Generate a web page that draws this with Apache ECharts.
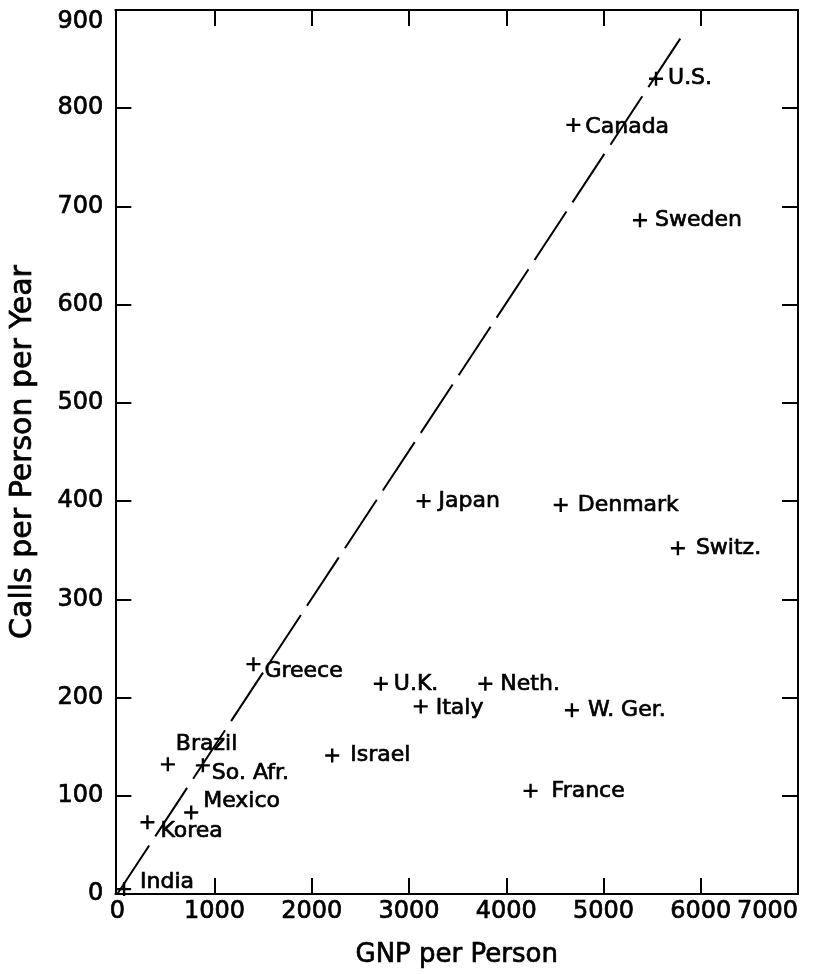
<!DOCTYPE html>
<html>
<head>
<meta charset="utf-8">
<title>Calls per Person vs GNP</title>
<script src="https://cdn.jsdelivr.net/npm/echarts@6/dist/echarts.min.js"></script>
<style>
  html, body { margin: 0; padding: 0; background: #fff; }
  #chart { width: 820px; height: 974px; }
</style>
</head>
<body>
<div id="chart"></div>
<script>
// countries and their values
const countries = ['U.S.', 'Canada', 'Sweden', 'Japan', 'Denmark', 'Switz.', 'Neth.', 'Italy', 'W. Ger.',
  'U.K.', 'Israel', 'France', 'Greece', 'Brazil', 'So. Afr.', 'Mexico', 'Korea', 'India'];
const gnp = [5540, 4690, 5375, 3150, 4560, 5765, 3785, 3120, 4675, 2710, 2210, 4250, 1400, 520, 880, 760, 310, 70];
const calls = [830, 783, 686, 400, 396, 352, 214, 191, 187, 214, 141, 105, 234, 132, 131, 83, 73, 5];

// dashed reference line through the origin
const lineX = [0, 5810];
const lineY = [0, 874];

// tick labels
const xTicks = [0, 1000, 2000, 3000, 4000, 5000, 6000, 7000];
const yTicks = [0, 100, 200, 300, 400, 500, 600, 700, 800, 900];

// label placement next to each cross (px right, px down)
const labelDx = [12, 12, 15, 15, 17, 18, 15, 15, 16, 13, 18, 21, 11, 8, 9, 12, 13, 16];
const labelDy = [0, 2, 0, 0, 0, 0, 0, 2, 0, 0, 0, 0, 7, -20, 8, -11, 9, -7];

const font = 'DejaVu Sans';
const plus = 'path://M5.8,0h2.4v5.8h5.8v2.4h-5.8v5.8h-2.4v-5.8h-5.8v-2.4h5.8z';
// the scanned lettering is heavier than the regular face, so thicken it a bit
const ink = { color: '#000', fontFamily: font, textBorderColor: '#000', textBorderWidth: 0.7 };

const chart = echarts.init(document.getElementById('chart'));

const innerTicks = vals => ({ show: true, inside: true, length: 16, lineStyle: { color: '#000', width: 2 }, customValues: vals });
const line = { show: true, onZero: false, lineStyle: { color: '#000', width: 2 } };

const points = countries.map((name, i) => ({
  name,
  value: [gnp[i], calls[i]],
  label: {
    show: true,
    position: 'right',
    distance: 0,
    offset: [labelDx[i] - 7, labelDy[i]],
    formatter: name,
    ...ink,
    fontSize: 22,
  },
}));

chart.setOption({
  backgroundColor: '#fff',
  animation: false,
  grid: { left: 113, right: 22, top: 10, bottom: 80 },
  xAxis: [
    {
      type: 'value',
      min: -20,
      max: 7000,
      name: 'GNP per Person',
      nameLocation: 'middle',
      nameGap: 48,
      nameTextStyle: { ...ink, fontSize: 26 },
      axisLine: line,
      axisTick: innerTicks([1000, 2000, 3000, 4000, 5000, 6000]),
      axisLabel: {
        customValues: xTicks,
        formatter: v => String(v),
        showMaxLabel: true,
        ...ink,
        fontSize: 24,
        margin: 6,
        alignMaxLabel: 'right',
      },
      splitLine: { show: false },
    },
    {
      type: 'value',
      position: 'top',
      min: -20,
      max: 7000,
      axisLine: line,
      axisTick: innerTicks([1000, 2000, 3000, 4000, 5000, 6000]),
      axisLabel: { show: false },
      splitLine: { show: false },
    },
  ],
  yAxis: [
    {
      type: 'value',
      min: 0,
      max: 900,
      name: 'Calls per Person per Year',
      nameLocation: 'middle',
      nameGap: 77,
      nameTextStyle: { ...ink, fontSize: 30 },
      axisLine: line,
      axisTick: innerTicks([100, 200, 300, 400, 500, 600, 700, 800]),
      axisLabel: {
        customValues: yTicks,
        formatter: v => String(v),
        ...ink,
        fontSize: 24,
        margin: 12,
        verticalAlignMaxLabel: 'top',
      },
      splitLine: { show: false },
    },
    {
      type: 'value',
      position: 'right',
      min: 0,
      max: 900,
      axisLine: line,
      axisTick: innerTicks([100, 200, 300, 400, 500, 600, 700, 800]),
      axisLabel: { show: false },
      splitLine: { show: false },
    },
  ],
  series: [
    {
      type: 'line',
      data: lineX.map((x, i) => [x, lineY[i]]),
      showSymbol: false,
      silent: true,
      lineStyle: { color: '#000', width: 2, type: [58, 11] },
    },
    {
      type: 'scatter',
      symbol: plus,
      symbolSize: 14,
      itemStyle: { color: '#000', opacity: 1 },
      data: points,
    },
  ],
});
</script>
</body>
</html>
